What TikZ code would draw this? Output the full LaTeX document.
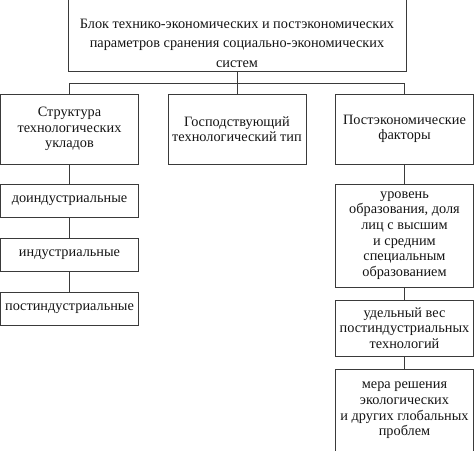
\documentclass[tikz,border=0pt]{standalone}
\usepackage{fontspec}
\setmainfont{Liberation Serif}
\usetikzlibrary{positioning}
\definecolor{linegray}{HTML}{3A3A3A}
\definecolor{textgray}{HTML}{141414}
\tikzset{
    blk/.style={draw=linegray, line width=1pt, text=textgray, align=center,
        inner sep=0pt, minimum width=138pt, font=\fontsize{14.3}{15.6}\selectfont},
    lbl/.style={text=textgray, align=center, inner sep=0pt,
        font=\fontsize{14.3}{19.5}\selectfont}
}

\begin{document}
\begin{tikzpicture}[x=1pt, y=-1pt]
                        \useasboundingbox (0, 0) rectangle (474, 450);
                        \clip (0, 0) rectangle (474, 450);
                        \node[blk, minimum width=338pt, minimum height=90pt, anchor=south] (blok) at (237, 72) {};
                        \node[lbl] (blokt) at (237, 43) {Блок технико-экономических и постэкономических\\параметров сранения социально-экономических\\систем};
                        \node[blk, minimum height=70pt] (struct) at (69.5, 129) {Структура\\технологических\\укладов};
                        \node[blk, minimum height=70pt] (tip) at (237, 129) {Господствующий\\технологический тип};
                        \node[blk, minimum height=70pt] (fakt) at (404.5, 129) {Постэкономические\\факторы};
                        \node[blk, minimum height=33pt] (doind) at (69.5, 200.5) {доиндустриальные};
                        \node[blk, minimum height=33pt] (ind) at (69.5, 254.5) {индустриальные};
                        \node[blk, minimum height=33pt] (postind) at (69.5, 308.5) {постиндустриальные};
                        \node[blk, minimum height=103pt] (obraz) at (404.5, 235.5) {уровень\\образования, доля\\лиц с высшим\\и средним\\специальным\\образованием};
                        \node[blk, minimum height=56pt] (ves) at (404.5, 328) {удельный вес\\постиндустриальных\\технологий};
                        \node[blk, minimum height=83pt] (mera) at (404.5, 410.5) {мера решения\\экологических\\и других глобальных\\проблем};

                        \draw[linegray, line width=1pt]
                        (blok.south) -- (tip.north)
                        (struct.north) -- ++(0, -10) -| (fakt.north)
                        (struct.south) -- (doind.north)
                        (doind.south) -- (ind.north)
                        (ind.south) -- (postind.north)
                        (fakt.south) -- (obraz.north)
                        (obraz.south) -- (ves.north)
                        (ves.south) -- (mera.north);
                    \end{tikzpicture}
\end{document}
